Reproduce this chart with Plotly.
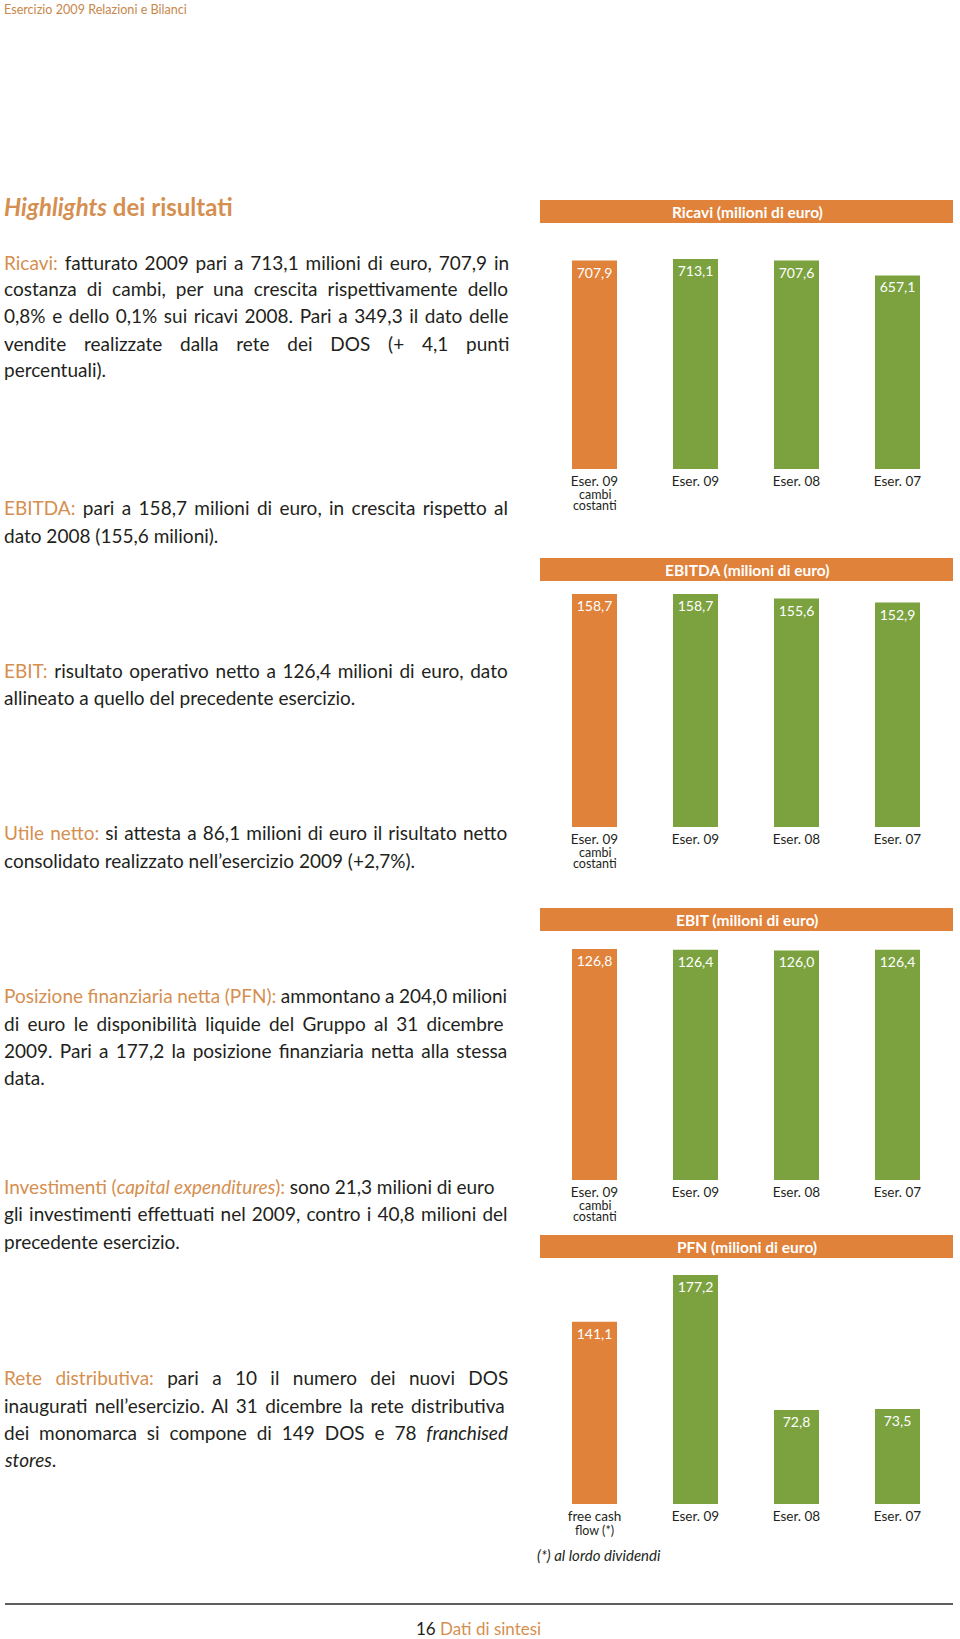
import plotly.graph_objects as go

W, H = 960, 1639
ORANGE = "#E0823A"
GREEN = "#7BA23F"
TEXT_OR = "#D58F50"
DARK = "#231F20"
FONT = "Lato"

# ---------------- data ----------------
categories = ["Eser. 09 cambi costanti", "Eser. 09", "Eser. 08", "Eser. 07"]
tick_labels = ["Eser. 09", "Eser. 09", "Eser. 08", "Eser. 07"]
pfn_categories = ["free cash flow (*)", "Eser. 09", "Eser. 08", "Eser. 07"]
pfn_tick_labels = ["free cash", "Eser. 09", "Eser. 08", "Eser. 07"]

ricavi = [707.9, 713.1, 707.6, 657.1]
ebitda = [158.7, 158.7, 155.6, 152.9]
ebit = [126.8, 126.4, 126.0, 126.4]
pfn = [141.1, 177.2, 72.8, 73.5]

titles = ["Ricavi (milioni di euro)", "EBITDA (milioni di euro)",
          "EBIT (milioni di euro)", "PFN (milioni di euro)"]
bar_colors = [ORANGE, GREEN, GREEN, GREEN]


def o(t):
    return f"<span style='color:{TEXT_OR}'>{t}</span>"


# (y centre px, extra word spacing px, html text)
paragraphs = [
    [(262, 2.0, o("Ricavi:") + " fatturato 2009 pari a 713,1 milioni di euro, 707,9 in"),
     (289, 5.2, "costanza di cambi, per una crescita rispettivamente dello"),
     (316, 1.7, "0,8% e dello 0,1% sui ricavi 2008. Pari a 349,3 il dato delle"),
     (343, 12.9, "vendite realizzate dalla rete dei DOS (+ 4,1 punti"),
     (370, 0, "percentuali).")],
    [(507, 2.5, o("EBITDA:") + " pari a 158,7 milioni di euro, in crescita rispetto al"),
     (535, 0, "dato 2008 (155,6 milioni).")],
    [(670, 1.8, o("EBIT:") + " risultato operativo netto a 126,4 milioni di euro, dato"),
     (697, 0, "allineato a quello del precedente esercizio.")],
    [(832, 1.3, o("Utile netto:") + " si attesta a 86,1 milioni di euro il risultato netto"),
     (860, 0, "consolidato realizzato nell’esercizio 2009 (+2,7%).")],
    [(996, -0.3, o("Posizione finanziaria netta (PFN):") + " ammontano a 204,0 milioni"),
     (1023, 3.4, "di euro le disponibilità liquide del Gruppo al 31 dicembre"),
     (1050, 2.4, "2009. Pari a 177,2 la posizione finanziaria netta alla stessa"),
     (1077, 0, "data.")],
    [(1186, -0.2, o("Investimenti (<i>capital expenditures</i>):") + " sono 21,3 milioni di euro"),
     (1213, 1.3, "gli investimenti effettuati nel 2009, contro i 40,8 milioni del"),
     (1241, 0, "precedente esercizio.")],
    [(1377, 8.5, o("Rete distributiva:") + " pari a 10 il numero dei nuovi DOS"),
     (1405, 2.4, "inaugurati nell’esercizio. Al 31 dicembre la rete distributiva"),
     (1432, 5.0, "dei monomarca si compone di 149 DOS e 78 <i>franchised</i>"),
     (1459, 0, "<i>stores</i>.")],
]

# panel geometry in pixels: header top/bottom, plot top/bottom
panels = [
    (200, 223, 259, 469),
    (558, 581, 594, 827),
    (908, 931, 949, 1180),
    (1235, 1258, 1275, 1504),
]


def py(p):
    return 1 - p / H


def px(p):
    return p / W


fig = go.Figure()
annotations = []
shapes = []

series = [ricavi, ebitda, ebit, pfn]
for i, (vals, title, geo) in enumerate(zip(series, titles, panels)):
    n = i + 1
    cats = pfn_categories if i == 3 else categories
    ticks = pfn_tick_labels if i == 3 else tick_labels
    xa = "x" if n == 1 else f"x{n}"
    ya = "y" if n == 1 else f"y{n}"
    fig.add_trace(go.Bar(
        x=cats, y=vals, xaxis=xa, yaxis=ya,
        marker=dict(color=bar_colors, line=dict(width=0)),
        texttemplate="%{y:.1f}", textposition="inside",
        insidetextanchor="end",
        textfont=dict(family=FONT, size=14, color="white"),
        showlegend=False, hoverinfo="skip",
    ))
    htop, hbot, ptop, pbot = geo
    xkey = "xaxis" if n == 1 else f"xaxis{n}"
    ykey = "yaxis" if n == 1 else f"yaxis{n}"
    fig.update_layout(**{
        xkey: dict(domain=[px(544), px(948)], anchor=ya, type="category",
                   categoryorder="array", categoryarray=cats,
                   tickmode="array", tickvals=cats, ticktext=ticks,
                   showgrid=False, zeroline=False, showline=False, ticks="",
                   ticklabelstandoff=2,
                   tickfont=dict(family=FONT, size=13.5, color=DARK),
                   fixedrange=True),
        ykey: dict(domain=[py(pbot), py(ptop)], anchor=xa,
                   range=[0, max(vals)], visible=False, fixedrange=True),
    })
    # header band
    shapes.append(dict(type="rect", xref="paper", yref="paper",
                       x0=px(540), x1=px(953), y0=py(hbot), y1=py(htop),
                       fillcolor=ORANGE, line=dict(width=0), layer="below"))
    annotations.append(dict(text=f"<b>{title}</b>", xref="paper", yref="paper",
                            x=px(747), y=py((htop + hbot) / 2), xanchor="center",
                            yanchor="middle", showarrow=False,
                            font=dict(family=FONT, size=15.5, color="white")))
    # extra category lines
    extra = ["flow (*)"] if i == 3 else ["cambi", "costanti"]
    for k, t in enumerate(extra):
        yy = pbot + (26 if i == 3 else 25.5) + k * 11
        annotations.append(dict(text=t, xref=xa, yref="paper", x=cats[0],
                                y=py(yy), xanchor="center", yanchor="middle",
                                showarrow=False,
                                font=dict(family=FONT, size=12.5, color=DARK)))

# body text
for para in paragraphs:
    for yy, ws, txt in para:
        html = f"<span style='word-spacing:{ws}px'>{txt}</span>" if ws else txt
        annotations.append(dict(text=html, xref="paper", yref="paper",
                                x=px(2), y=py(yy), xanchor="left",
                                yanchor="middle", showarrow=False,
                                font=dict(family=FONT, size=19, color=DARK)))

# page header / title / footnote / footer
annotations.append(dict(text="Esercizio 2009 Relazioni e Bilanci", xref="paper",
                        yref="paper", x=px(2), y=py(9), xanchor="left",
                        yanchor="middle", showarrow=False,
                        font=dict(family=FONT, size=12.6, color="#C8874B")))
annotations.append(dict(text="<b><i>Highlights</i> dei risultati</b>", xref="paper",
                        yref="paper", x=px(2), y=py(207), xanchor="left",
                        yanchor="middle", showarrow=False,
                        font=dict(family=FONT, size=24, color=TEXT_OR)))
annotations.append(dict(text="<i>(*) al lordo dividendi</i>", xref="paper",
                        yref="paper", x=px(535), y=py(1555), xanchor="left",
                        yanchor="middle", showarrow=False,
                        font=dict(family=FONT, size=15, color=DARK)))
annotations.append(dict(text="16 " + o("Dati di sintesi"), xref="paper",
                        yref="paper", x=px(478), y=py(1628), xanchor="center",
                        yanchor="middle", showarrow=False,
                        font=dict(family=FONT, size=17, color=DARK)))
shapes.append(dict(type="line", xref="paper", yref="paper",
                   x0=px(5), x1=px(953), y0=py(1604), y1=py(1604),
                   line=dict(color="#5E5E5E", width=2)))

fig.update_layout(
    width=W, height=H, margin=dict(l=0, r=0, t=0, b=0),
    paper_bgcolor="white", plot_bgcolor="white",
    bargap=1 - 45 / 101, separators=",.",
    annotations=annotations, shapes=shapes,
    font=dict(family=FONT, color=DARK),
)
fig.write_html("out.html", config={"displayModeBar": False},
               post_script="document.body.style.margin='0';"
                           "document.body.style.overflow='hidden';")
